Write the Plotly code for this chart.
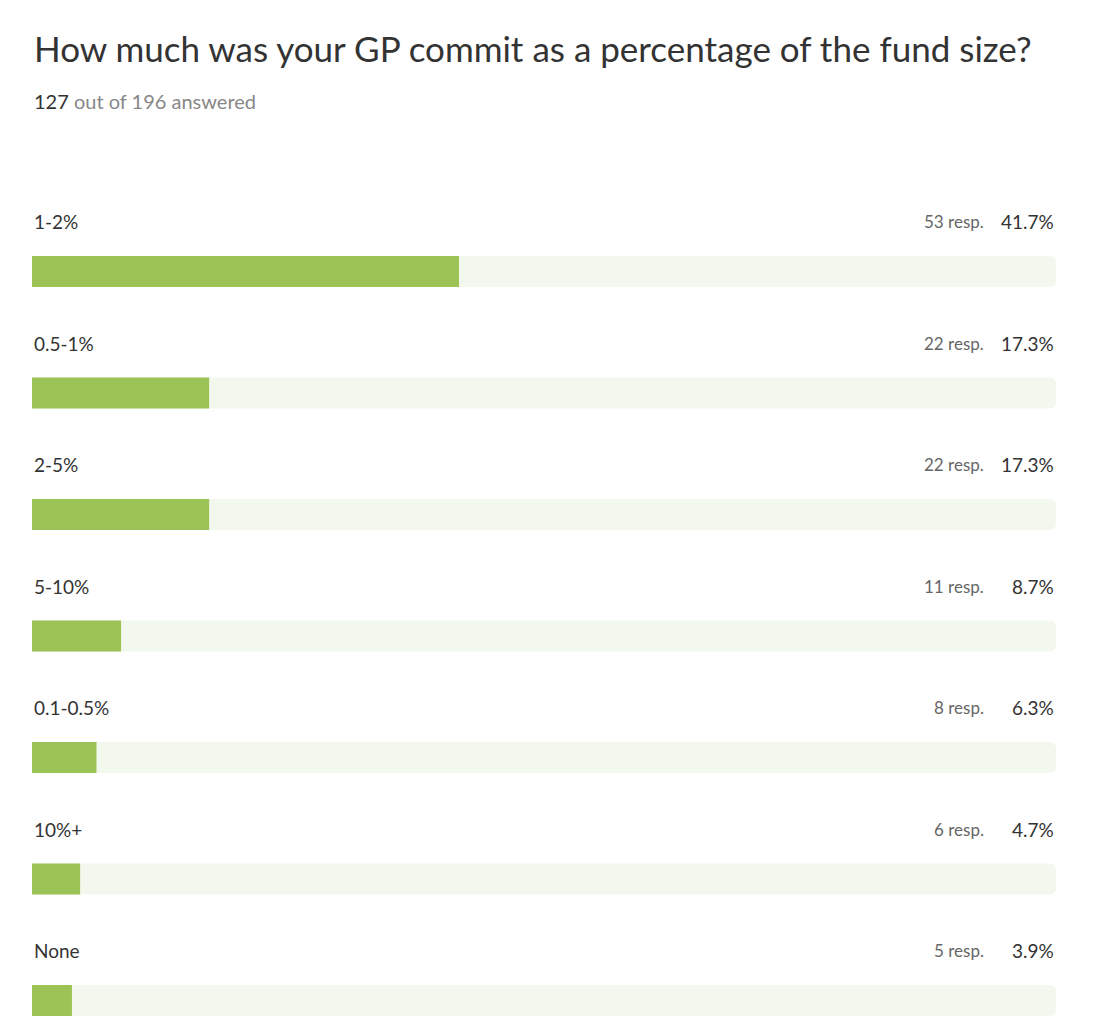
import plotly.graph_objects as go

categories = ["1-2%", "0.5-1%", "2-5%", "5-10%", "0.1-0.5%", "10%+", "None"]
responses = [53, 22, 22, 11, 8, 6, 5]
percents = [41.7, 17.3, 17.3, 8.7, 6.3, 4.7, 3.9]
answered = 127
total = 196

rows = list(range(len(categories)))
font = "Lato, Open Sans, sans-serif"

fig = go.Figure()
fig.add_trace(go.Bar(y=rows, x=[100] * len(rows), orientation="h", width=0.255,
                     marker=dict(color="#f3f8ee", cornerradius=6, line_width=0),
                     hoverinfo="skip"))
fig.add_trace(go.Bar(y=rows, x=percents, orientation="h", width=0.255,
                     marker=dict(color="#9bc356", cornerradius=6, line_width=0)))

ann = []
for i, (c, r, p) in enumerate(zip(categories, responses, percents)):
    ann.append(dict(x=0, y=i, text=c, xanchor="left", yanchor="middle", yshift=50,
                    showarrow=False, font=dict(size=19, color="#333333")))
    ann.append(dict(x=100, y=i, text=f"{p:.1f}%", xanchor="right", yanchor="middle",
                    yshift=50, showarrow=False, font=dict(size=19, color="#333333")))
    ann.append(dict(x=100, y=i, text=f"{r} resp.", xanchor="right", yanchor="middle",
                    yshift=50, xshift=-70, showarrow=False, font=dict(size=17, color="#666666")))

ann.append(dict(xref="paper", yref="paper", x=0, y=1.117, xanchor="left", yanchor="middle",
                text="How much was your GP commit as a percentage of the fund size?",
                showarrow=False, font=dict(size=35, color="#333333")))
ann.append(dict(xref="paper", yref="paper", x=0, y=1.056, xanchor="left", yanchor="middle",
                text=f"<span style='color:#333333'>{answered}</span> out of {total} answered",
                showarrow=False, font=dict(size=20, color="#888888")))

fig.update_layout(
    width=1096, height=1036, barmode="overlay", showlegend=False,
    margin=dict(l=24, r=48, t=142, b=24),
    paper_bgcolor="white", plot_bgcolor="white", font=dict(family=font),
    xaxis=dict(range=[0, 100], visible=False, fixedrange=True),
    yaxis=dict(range=[6.16, -1], visible=False, fixedrange=True),
    annotations=ann,
)
fig.write_html("out.html")
